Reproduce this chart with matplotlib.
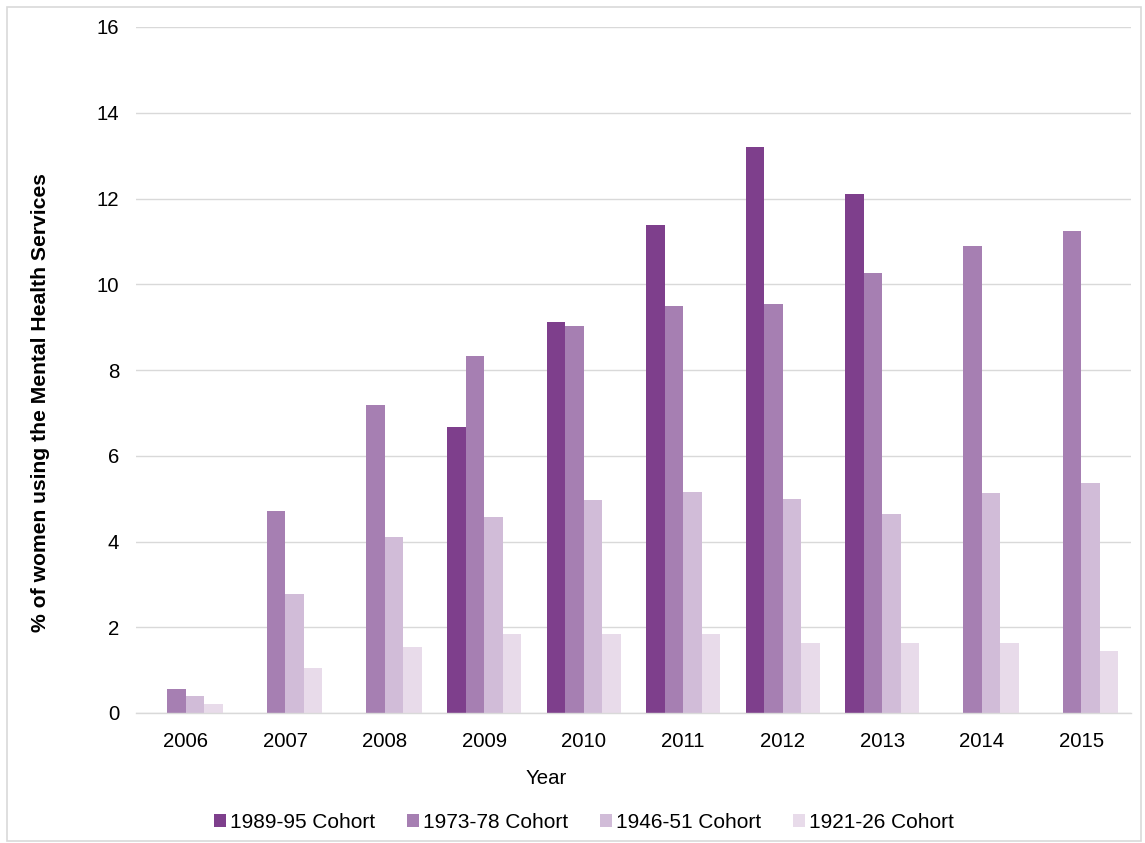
import numpy as np
import matplotlib
matplotlib.use("Agg")
import matplotlib.pyplot as plt
from matplotlib.patches import Rectangle

plt.rcParams['font.family'] = ['Liberation Sans', 'DejaVu Sans']

years = ['2006', '2007', '2008', '2009', '2010', '2011', '2012', '2013', '2014', '2015']
cohorts = ['1989-95 Cohort', '1973-78 Cohort', '1946-51 Cohort', '1921-26 Cohort']

# NaN = no data for that cohort in that year
cohort_1989_95 = [np.nan, np.nan, np.nan, 6.67, 9.12, 11.39, 13.21, 12.10, np.nan, np.nan]
cohort_1973_78 = [0.57, 4.71, 7.19, 8.33, 9.03, 9.49, 9.54, 10.26, 10.89, 11.25]
cohort_1946_51 = [0.40, 2.77, 4.10, 4.58, 4.97, 5.16, 4.99, 4.63, 5.13, 5.36]
cohort_1921_26 = [0.21, 1.05, 1.55, 1.84, 1.84, 1.84, 1.64, 1.64, 1.64, 1.45]

series = [cohort_1989_95, cohort_1973_78, cohort_1946_51, cohort_1921_26]
colors = ['#7E3F8C', '#A67FB2', '#D1BCD8', '#E8DBEA']

fig = plt.figure(figsize=(11.45, 8.43), dpi=100)
ax = fig.add_axes([136 / 1145, 1 - 713 / 843, 995 / 1145, 686 / 843])

x = np.arange(len(years))
width = 0.187
for i, (vals, col, lab) in enumerate(zip(series, colors, cohorts)):
    ax.bar(x + (i - 1.5) * width, vals, width, color=col, label=lab, zorder=3)

ax.set_xlim(-0.5, len(years) - 0.5)
ax.set_ylim(0, 16)
ax.set_yticks(np.arange(0, 17, 2))
ax.set_xticks(x)
ax.set_xticklabels(years)
ax.grid(axis='y', color='#D9D9D9', linewidth=1, zorder=0)
for side in ['top', 'right', 'left']:
    ax.spines[side].set_visible(False)
ax.spines['bottom'].set_color('#D9D9D9')
ax.spines['bottom'].set_linewidth(1)
ax.spines['bottom'].set_zorder(4)
ax.tick_params(axis='both', length=0, labelsize=14.7, colors='#000000')
ax.tick_params(axis='y', pad=12)
ax.tick_params(axis='x', pad=14)

ax.set_xlabel('Year', fontsize=14.7)
ax.xaxis.set_label_coords(0.412, -0.082)
ax.set_ylabel('% of women using the Mental Health Services', fontsize=15.2, fontweight='bold')
ax.yaxis.set_label_coords(-0.086, 0.452)

fig.legend(loc='center', bbox_to_anchor=(584 / 1145, 1 - 822 / 843), ncol=4, frameon=False,
           fontsize=15, handlelength=0.6, handleheight=0.6, handletextpad=0.2,
           columnspacing=1.5)

fig.patches.append(Rectangle((7 / 1145, 2 / 843), 1134 / 1145, 834 / 843, transform=fig.transFigure,
                             fill=False, edgecolor='#D9D9D9', linewidth=1.2))

fig.savefig('out.png', dpi=100)
